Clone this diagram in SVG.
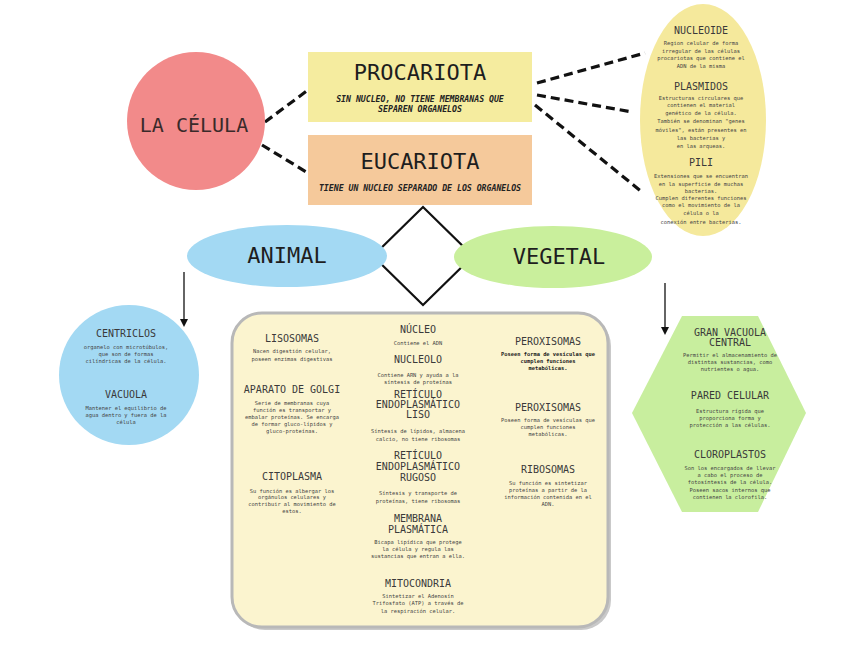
<svg xmlns="http://www.w3.org/2000/svg" width="848" height="655" viewBox="0 0 848 655">
<style>
.t{font-family:"DejaVu Sans Mono","Liberation Mono",monospace;fill:#222;text-anchor:middle}
.big{font-size:22px;fill:#1e1e1e}
.h{font-size:10px;fill:#3a3a3a}
.d{font-size:5.4px;fill:#444}
.s{font-size:8.2px;font-weight:bold;font-style:italic;fill:#222}
.dash{stroke:#111;stroke-width:3.2;stroke-dasharray:9 5;fill:none}
.ln{stroke:#111;stroke-width:1.3;fill:none}
</style>
<rect width="848" height="655" fill="#fff"/>
<g id="connectors">
<line class="dash" x1="265" y1="122" x2="308" y2="90"/>
<line class="dash" x1="262" y1="145" x2="308" y2="173"/>
<line class="dash" x1="537" y1="83" x2="645" y2="53"/>
<line class="dash" x1="537" y1="95" x2="632" y2="112"/>
<line class="dash" x1="535" y1="105" x2="642" y2="192"/>
<path d="M373,256 L423,207 L473,256 L423,305 Z" fill="none" stroke="#111" stroke-width="2.2"/>
<line class="ln" x1="184" y1="272" x2="184" y2="320"/>
<path d="M180,319 L188,319 L184,327 Z" fill="#111"/>
<line class="ln" x1="665" y1="283" x2="665" y2="328"/>
<path d="M661,327 L669,327 L665,335 Z" fill="#111"/>
</g>
<g id="celula">
<circle cx="196" cy="121" r="69" fill="#f28a8a"/>
<text class="t" x="194" y="132" style="font-size:20px;fill:#3a2a2a">LA CÉLULA</text>
</g>
<g id="procariota">
<rect x="308" y="52" width="224" height="70" fill="#f5ec9f"/>
<text class="t big" x="420" y="80">PROCARIOTA</text>
<text class="t s" x="420" y="102">SIN NUCLEO, NO TIENE MEMBRANAS QUE</text>
<text class="t s" x="420" y="112">SEPAREN ORGANELOS</text>
</g>
<g id="eucariota">
<rect x="308" y="135" width="224" height="70" fill="#f5c99b"/>
<text class="t big" x="420" y="169">EUCARIOTA</text>
<text class="t s" x="420" y="191">TIENE UN NUCLEO SEPARADO DE LOS ORGANELOS</text>
</g>
<g id="procariota-detalle">
<ellipse cx="703" cy="120" rx="63" ry="116" fill="#f5e99c"/>
<text class="t h" x="701" y="34">NUCLEOIDE</text>
<text class="t d" x="701" y="45">Region celular de forma</text>
<text class="t d" x="701" y="53">irregular de las células</text>
<text class="t d" x="701" y="60">procariotas que contiene el</text>
<text class="t d" x="701" y="68">ADN de la misma</text>
<text class="t h" x="701" y="90">PLASMIDOS</text>
<text class="t d" x="701" y="100">Estructuras circulares que</text>
<text class="t d" x="701" y="107">contienen el material</text>
<text class="t d" x="701" y="115">genético de la célula.</text>
<text class="t d" x="701" y="123">También se denominan "genes</text>
<text class="t d" x="701" y="132">móviles", están presentes en</text>
<text class="t d" x="701" y="140">las bacterias y</text>
<text class="t d" x="701" y="148">en las arqueas.</text>
<text class="t h" x="701" y="166">PILI</text>
<text class="t d" x="701" y="178">Extensiones que se encuentran</text>
<text class="t d" x="701" y="186">en la superficie de muchas</text>
<text class="t d" x="701" y="193">bacterias.</text>
<text class="t d" x="701" y="200">Cumplen diferentes funciones</text>
<text class="t d" x="701" y="207">como el movimiento de la</text>
<text class="t d" x="701" y="215">célula o la</text>
<text class="t d" x="701" y="224">conexión entre bacterias.</text>
</g>
<g id="animal">
<ellipse cx="287" cy="256" rx="100" ry="31" fill="#a3d9f3"/>
<text class="t big" x="287" y="263">ANIMAL</text>
</g>
<g id="vegetal">
<ellipse cx="553" cy="257" rx="99" ry="31" fill="#c9ef9c"/>
<text class="t big" x="559" y="264">VEGETAL</text>
</g>
<g id="animal-detalle">
<circle cx="129" cy="375" r="70" fill="#a3d9f3"/>
<text class="t h" x="126" y="337">CENTRICLOS</text>
<text class="t d" x="126" y="349">organelo con microtúbulos,</text>
<text class="t d" x="126" y="356">que son de formas</text>
<text class="t d" x="126" y="363">cilíndricas de la célula.</text>
<text class="t h" x="126" y="398">VACUOLA</text>
<text class="t d" x="126" y="410">Mantener el equilibrio de</text>
<text class="t d" x="126" y="417">agua dentro y fuera de la</text>
<text class="t d" x="126" y="424">célula</text>
</g>
<g id="organelos">
<rect x="235" y="316" width="376" height="314" rx="30" fill="#c9c9c9"/>
<rect x="232" y="313" width="376" height="314" rx="30" fill="#fbf4cf" stroke="#b8b8b8" stroke-width="3"/>
<text class="t h" x="292" y="342">LISOSOMAS</text>
<text class="t d" x="292" y="353">Nacen digestión celular,</text>
<text class="t d" x="292" y="361">poseen enzimas digestivas</text>
<text class="t h" x="292" y="393">APARATO DE GOLGI</text>
<text class="t d" x="292" y="405">Serie de membranas cuya</text>
<text class="t d" x="292" y="412">función es transportar y</text>
<text class="t d" x="292" y="419">embalar proteínas. Se encarga</text>
<text class="t d" x="292" y="426">de formar gluco-lípidos y</text>
<text class="t d" x="292" y="433">gluco-proteínas.</text>
<text class="t h" x="292" y="480">CITOPLASMA</text>
<text class="t d" x="292" y="493">Su función es albergar los</text>
<text class="t d" x="292" y="499">orgánulos celulares y</text>
<text class="t d" x="292" y="506">contribuir al movimiento de</text>
<text class="t d" x="292" y="513">estos.</text>
<text class="t h" x="418" y="333">NÚCLEO</text>
<text class="t d" x="418" y="345">Contiene el ADN</text>
<text class="t h" x="418" y="363">NUCLEOLO</text>
<text class="t d" x="418" y="377">Contiene ARN y ayuda a la</text>
<text class="t d" x="418" y="384">síntesis de proteínas</text>
<text class="t h" x="418" y="398">RETÍCULO</text>
<text class="t h" x="418" y="408">ENDOPLASMÁTICO</text>
<text class="t h" x="418" y="418">LISO</text>
<text class="t d" x="418" y="433">Síntesis de lípidos, almacena</text>
<text class="t d" x="418" y="441">calcio, no tiene ribosomas</text>
<text class="t h" x="418" y="459">RETÍCULO</text>
<text class="t h" x="418" y="470">ENDOPLASMÁTICO</text>
<text class="t h" x="418" y="481">RUGOSO</text>
<text class="t d" x="418" y="495">Síntesis y transporte de</text>
<text class="t d" x="418" y="503">proteínas, tiene ribosomas</text>
<text class="t h" x="418" y="522">MEMBRANA</text>
<text class="t h" x="418" y="533">PLASMÁTICA</text>
<text class="t d" x="418" y="544">Bicapa lipídica que protege</text>
<text class="t d" x="418" y="551">la célula y regula las</text>
<text class="t d" x="418" y="558">sustancias que entran a ella.</text>
<text class="t h" x="418" y="587">MITOCONDRIA</text>
<text class="t d" x="418" y="598">Sintetizar el Adenosín</text>
<text class="t d" x="418" y="605">Trifosfato (ATP) a través de</text>
<text class="t d" x="418" y="613">la respiración celular.</text>
<text class="t h" x="548" y="345">PEROXISOMAS</text>
<text class="t d" x="548" y="356" style="font-weight:bold;fill:#222">Poseen forma de vesículas que</text>
<text class="t d" x="548" y="363" style="font-weight:bold;fill:#222">cumplen funciones</text>
<text class="t d" x="548" y="370" style="font-weight:bold;fill:#222">metabólicas.</text>
<text class="t h" x="548" y="411">PEROXISOMAS</text>
<text class="t d" x="548" y="422">Poseen forma de vesículas que</text>
<text class="t d" x="548" y="429">cumplen funciones</text>
<text class="t d" x="548" y="436">metabólicas.</text>
<text class="t h" x="548" y="473">RIBOSOMAS</text>
<text class="t d" x="548" y="485">Su función es sintetizar</text>
<text class="t d" x="548" y="492">proteínas a partir de la</text>
<text class="t d" x="548" y="499">información contenida en el</text>
<text class="t d" x="548" y="506">ADN.</text>
</g>
<g id="vegetal-detalle">
<polygon points="632,413 682,316 758,316 806,413 758,512 682,512" fill="#c8ee9e"/>
<text class="t h" x="730" y="336">GRAN VACUOLA</text>
<text class="t h" x="730" y="346">CENTRAL</text>
<text class="t d" x="730" y="357">Permitir el almacenamiento de</text>
<text class="t d" x="730" y="364">distintas sustancias, como</text>
<text class="t d" x="730" y="371">nutrientes o agua.</text>
<text class="t h" x="730" y="399">PARED CELULAR</text>
<text class="t d" x="730" y="413">Estructura rígida que</text>
<text class="t d" x="730" y="420">proporciona forma y</text>
<text class="t d" x="730" y="427">protección a las células.</text>
<text class="t h" x="730" y="458">CLOROPLASTOS</text>
<text class="t d" x="730" y="470">Son los encargados de llevar</text>
<text class="t d" x="730" y="477">a cabo el proceso de</text>
<text class="t d" x="730" y="484">fotosíntesis de la célula.</text>
<text class="t d" x="730" y="492">Poseen sacos internos que</text>
<text class="t d" x="730" y="499">contienen la clorofila.</text>
</g>
</svg>
